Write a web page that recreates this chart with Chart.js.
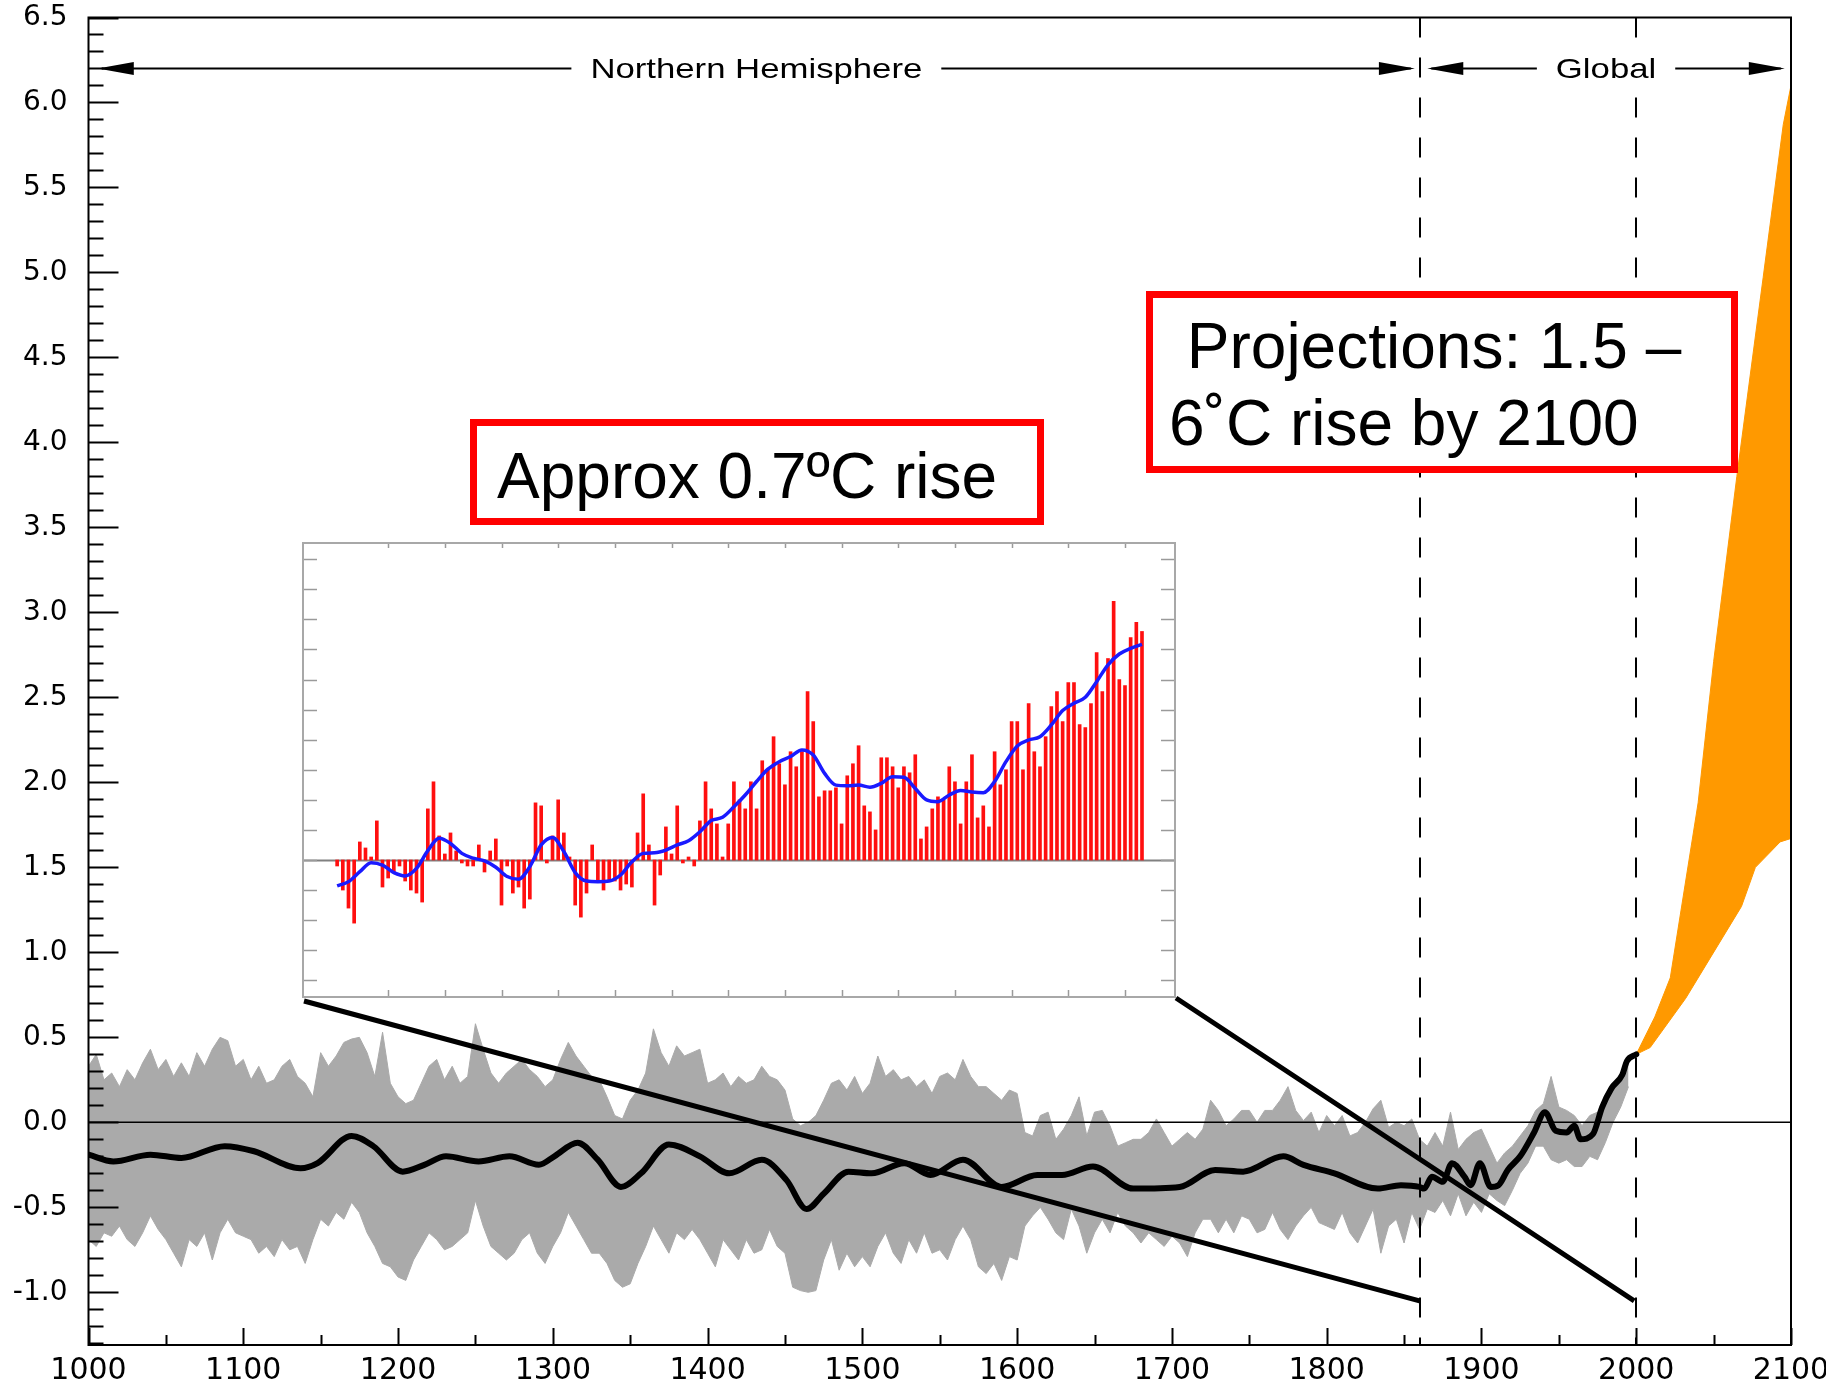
<!DOCTYPE html>
<html>
<head>
<meta charset="utf-8">
<script src="https://cdn.jsdelivr.net/npm/chart.js@4.4.1/dist/chart.umd.min.js"></script>
<style>
  html, body { margin: 0; padding: 0; background: #fff; }
  #wrap { position: relative; width: 1826px; height: 1383px; overflow: hidden; }
  #main { position: absolute; left: 0; top: 0; }
  #inset { position: absolute; }
  .note { position: absolute; box-sizing: border-box; border: 7px solid #ff0000; background: #fff;
          font-family: "Liberation Sans", Arial, sans-serif; font-size: 64px; color: #000; white-space: pre; }
  .note span { position: absolute; display: block; }
</style>
</head>
<body>
<div id="wrap">
  <canvas id="main" width="1826" height="1383"></canvas>
  <canvas id="inset" width="874" height="456"></canvas>
  <div class="note" id="noteRise"><span style="left:20px; top:18px; line-height:64px;">Approx 0.7ºC rise</span></div>
  <div class="note" id="noteProj"><span style="left:16px; top:10px; line-height:77px;"> Projections: 1.5 –<br>6˚C rise by 2100</span></div>
</div>
<script>
// ---------- axes ----------
const xTickLabels = [1000, 1100, 1200, 1300, 1400, 1500, 1600, 1700, 1800, 1900, 2000, 2100];
const yTickLabels = [-1.0, -0.5, 0.0, 0.5, 1.0, 1.5, 2.0, 2.5, 3.0, 3.5, 4.0, 4.5, 5.0, 5.5, 6.0, 6.5];

// ---------- reconstruction uncertainty range (°C), every 5 years from 1000 ----------
const rangeStart = 1000, rangeStep = 5;
const rangeUpper = [
  0.33,0.40,0.25,0.29,0.21,0.31,0.25,0.35,0.43,0.31,0.37,0.27,0.35,0.27,0.41,0.33,0.43,0.50,0.48,0.33,
  0.37,0.25,0.33,0.23,0.25,0.33,0.37,0.27,0.23,0.15,0.41,0.33,0.39,0.47,0.49,0.50,0.41,0.27,0.53,0.23,
  0.15,0.11,0.13,0.23,0.33,0.37,0.25,0.33,0.23,0.27,0.58,0.43,0.29,0.23,0.29,0.33,0.37,0.31,0.27,0.21,
  0.25,0.37,0.47,0.39,0.33,0.27,0.25,0.15,0.04,0.02,0.13,0.19,0.29,0.55,0.41,0.33,0.45,0.39,0.41,0.43,
  0.23,0.25,0.29,0.21,0.27,0.23,0.25,0.33,0.27,0.25,0.19,0.02,-0.02,0.00,0.04,0.13,0.23,0.25,0.19,0.27,
  0.17,0.23,0.39,0.27,0.31,0.25,0.27,0.21,0.25,0.17,0.27,0.29,0.25,0.37,0.27,0.21,0.21,0.17,0.13,0.19,
  0.17,-0.06,-0.08,0.04,0.06,-0.10,-0.04,0.04,0.15,-0.08,0.06,0.07,-0.02,-0.14,-0.12,-0.10,-0.10,-0.06,0.02,-0.06,
  -0.14,-0.10,-0.06,-0.10,-0.04,0.13,0.07,-0.02,0.02,0.07,0.07,0.00,0.07,0.07,0.13,0.21,0.07,0.01,0.06,-0.06,
  0.04,-0.02,0.04,-0.08,-0.06,0.00,0.08,0.13,-0.03,0.00,-0.02,0.02,-0.10,-0.14,-0.06,-0.14,0.06,-0.16,-0.10,-0.06,
  -0.04,-0.14,-0.24,-0.18,-0.14,-0.08,-0.02,0.07,0.11,0.27,0.09,0.07,0.04,-0.02,0.04,0.06,0.09,0.21,0.27,0.37
];
const rangeLower = [
  -0.69,-0.73,-0.65,-0.67,-0.61,-0.69,-0.73,-0.65,-0.55,-0.63,-0.69,-0.77,-0.85,-0.69,-0.73,-0.65,-0.81,-0.65,-0.57,-0.65,
  -0.67,-0.69,-0.77,-0.73,-0.79,-0.69,-0.75,-0.73,-0.83,-0.69,-0.57,-0.61,-0.53,-0.57,-0.47,-0.53,-0.65,-0.73,-0.83,-0.85,
  -0.91,-0.93,-0.81,-0.73,-0.65,-0.69,-0.75,-0.73,-0.69,-0.65,-0.46,-0.61,-0.73,-0.77,-0.81,-0.77,-0.69,-0.65,-0.77,-0.83,
  -0.73,-0.65,-0.53,-0.61,-0.69,-0.77,-0.77,-0.83,-0.93,-0.97,-0.95,-0.83,-0.73,-0.61,-0.69,-0.77,-0.65,-0.69,-0.63,-0.69,
  -0.77,-0.85,-0.69,-0.75,-0.81,-0.69,-0.77,-0.75,-0.63,-0.73,-0.77,-0.97,-0.99,-1.00,-0.99,-0.81,-0.69,-0.87,-0.77,-0.85,
  -0.79,-0.85,-0.73,-0.65,-0.77,-0.83,-0.69,-0.77,-0.65,-0.77,-0.75,-0.81,-0.69,-0.61,-0.69,-0.85,-0.89,-0.83,-0.93,-0.79,
  -0.81,-0.61,-0.55,-0.50,-0.57,-0.65,-0.69,-0.51,-0.61,-0.77,-0.65,-0.57,-0.65,-0.53,-0.61,-0.65,-0.71,-0.65,-0.69,-0.73,
  -0.67,-0.71,-0.79,-0.65,-0.57,-0.57,-0.65,-0.57,-0.65,-0.55,-0.57,-0.65,-0.63,-0.53,-0.63,-0.69,-0.61,-0.55,-0.50,-0.59,
  -0.61,-0.63,-0.53,-0.65,-0.71,-0.61,-0.51,-0.77,-0.61,-0.57,-0.71,-0.53,-0.63,-0.51,-0.53,-0.46,-0.55,-0.42,-0.55,-0.47,
  -0.53,-0.42,-0.46,-0.49,-0.40,-0.30,-0.24,-0.14,-0.14,-0.22,-0.24,-0.22,-0.26,-0.26,-0.20,-0.22,-0.12,0.00,0.09,0.21
];

// ---------- smoothed reconstruction + instrumental curve (°C) ----------
const smoothYears = [1000,1016,1040,1060,1088,1107,1137,1148,1170,1184,1203,1217,1231,1252,1272,1291,1301,1316,1329,1344,
  1357,1375,1395,1414,1435,1451,1464,1475,1491,1506,1527,1544,1565,1590,1613,1629,1649,1675,1705,1728,
  1746,1772,1785,1805,1833,1848,1860,1863,1868,1875,1881,1889,1893,1899,1906,1911,1917,1925,1934,1941,
  1948,1955,1960,1964,1972,1978,1984,1991,1994,2000];
const smoothValues = [-0.19,-0.23,-0.19,-0.21,-0.14,-0.17,-0.27,-0.24,-0.08,-0.14,-0.29,-0.25,-0.20,-0.23,-0.20,-0.25,-0.20,-0.12,-0.22,-0.38,
  -0.30,-0.13,-0.20,-0.30,-0.22,-0.34,-0.51,-0.42,-0.29,-0.30,-0.24,-0.31,-0.22,-0.38,-0.31,-0.31,-0.26,-0.39,-0.38,-0.28,
  -0.29,-0.20,-0.25,-0.30,-0.39,-0.37,-0.38,-0.39,-0.32,-0.35,-0.24,-0.32,-0.37,-0.24,-0.38,-0.37,-0.28,-0.20,-0.06,0.06,
  -0.05,-0.06,-0.02,-0.10,-0.07,0.09,0.20,0.28,0.36,0.40];

// ---------- projection envelope to 2100 (°C) ----------
const projHighYears = [2000, 2012, 2022, 2040, 2050, 2065, 2082, 2095, 2100];
const projHigh      = [0.40, 0.62, 0.85, 1.88, 2.71, 3.80, 4.97, 5.87, 6.10];
const projLowYears  = [2000, 2009, 2032, 2068, 2077, 2093, 2100];
const projLow       = [0.40, 0.44, 0.73, 1.27, 1.50, 1.65, 1.67];

// ---------- period markers ----------
const dividerYears = [1860, 2000];
const spanLabels = ['Northern Hemisphere', 'Global'];
const spanFrom   = [1006, 1865];
const spanTo     = [1857, 2096];
const spanLevel  = 6.2;
const zoomFloor  = -1.05;   // where the inset's guide lines meet the axis

// ---------- instrumental record 1861-2003 (inset) ----------
const recordStart = 1861;
const recordAnomaly = [
  -0.02,-0.10,-0.16,-0.21,0.06,0.04,0.01,0.13,-0.09,-0.06,
  -0.04,-0.02,-0.07,-0.10,-0.11,-0.14,0.17,0.26,0.08,0.02,
  0.09,0.03,-0.01,-0.02,-0.02,0.05,-0.04,0.03,0.07,-0.15,
  -0.02,-0.11,-0.09,-0.16,-0.13,0.19,0.18,-0.01,0.08,0.20,
  0.09,0.01,-0.15,-0.19,-0.11,0.05,-0.07,-0.10,-0.07,-0.07,
  -0.10,-0.08,-0.09,0.09,0.22,0.05,-0.15,-0.05,0.11,0.02,
  0.18,-0.01,0.01,-0.02,0.13,0.26,0.17,0.12,0.01,0.12,
  0.26,0.20,0.17,0.26,0.17,0.33,0.30,0.41,0.32,0.25,
  0.36,0.31,0.36,0.56,0.46,0.21,0.23,0.23,0.24,0.12,
  0.28,0.32,0.38,0.18,0.16,0.10,0.34,0.34,0.31,0.24,
  0.31,0.29,0.35,0.07,0.11,0.17,0.21,0.20,0.31,0.26,
  0.12,0.26,0.35,0.14,0.18,0.11,0.36,0.25,0.30,0.46,
  0.46,0.30,0.52,0.36,0.31,0.41,0.51,0.56,0.46,0.59,
  0.59,0.45,0.44,0.52,0.69,0.56,0.67,0.86,0.60,0.58,
  0.74,0.79,0.76
];
// decadal-smoothed record, every second year from 1861
const recordSmoothStep = 2;
const recordSmooth = [
  -0.086,-0.072,-0.039,-0.009,-0.017,-0.042,-0.053,-0.028,0.031,0.072,
  0.055,0.022,0.006,-0.003,-0.024,-0.055,-0.064,-0.022,0.050,0.075,
  0.028,-0.042,-0.070,-0.072,-0.070,-0.050,-0.006,0.022,0.024,0.033,
  0.050,0.064,0.094,0.131,0.142,0.177,0.216,0.261,0.302,0.327,
  0.344,0.366,0.349,0.288,0.249,0.247,0.249,0.242,0.255,0.277,
  0.275,0.238,0.200,0.194,0.216,0.231,0.226,0.224,0.261,0.327,
  0.379,0.399,0.410,0.449,0.497,0.521,0.541,0.593,0.649,0.685,
  0.704,0.717
];
const insetXRange = [1854.8, 2009.0];
const insetYRange = [-0.459, 1.0575];

// ---------- layout ----------
const insetBox = { left: 302, top: 542, width: 874, height: 456 };
const noteRise = { left: 470, top: 419, width: 574, height: 106 };
const noteProj = { left: 1146, top: 291, width: 592, height: 182 };

function place(el, b) {
  el.style.left = b.left + 'px'; el.style.top = b.top + 'px';
  el.style.width = b.width + 'px'; el.style.height = b.height + 'px';
}
place(document.getElementById('inset'), insetBox);
place(document.getElementById('noteRise'), noteRise);
place(document.getElementById('noteProj'), noteProj);

const pts = (xs, ys) => xs.map((x, i) => ({ x, y: ys[i] }));
const seq = (start, step, vals) => vals.map((v, i) => ({ x: start + i * step, y: v }));

// ---------- main chart decorations ----------
const mainDecor = {
  id: 'mainDecor',
  beforeDraw(chart) {
    const { ctx, width, height } = chart;
    ctx.save(); ctx.fillStyle = '#fff'; ctx.fillRect(0, 0, width, height); ctx.restore();
  },
  afterDatasetsDraw(chart) {
    const { ctx, chartArea: a, scales: { x, y } } = chart;
    ctx.save();
    // dashed period dividers
    ctx.strokeStyle = '#000'; ctx.lineWidth = 2; ctx.setLineDash([20, 20]);
    dividerYears.forEach(yr => {
      const px = Math.round(x.getPixelForValue(yr));
      ctx.beginPath(); ctx.moveTo(px, a.top); ctx.lineTo(px, a.bottom); ctx.stroke();
    });
    ctx.setLineDash([]);
    // guide lines from the inset to the instrumental period
    ctx.lineWidth = 5; ctx.lineCap = 'butt';
    const yb = y.getPixelForValue(zoomFloor);
    ctx.beginPath();
    ctx.moveTo(insetBox.left + 2, insetBox.top + insetBox.height + 3);
    ctx.lineTo(x.getPixelForValue(dividerYears[0]), yb);
    ctx.moveTo(insetBox.left + insetBox.width, insetBox.top + insetBox.height);
    ctx.lineTo(x.getPixelForValue(dividerYears[1]) - 2, yb);
    ctx.stroke();
    ctx.restore();
  },
  afterDraw(chart) {
    const { ctx, chartArea: a, scales: { x, y } } = chart;
    ctx.save();
    ctx.strokeStyle = '#000';
    // frame
    ctx.lineWidth = 2;
    ctx.strokeRect(a.left, a.top, a.right - a.left, a.bottom - a.top);
    // inward ticks on the left axis: 0.1 minor, 0.5 major
    ctx.beginPath();
    for (let k = -13; k <= 65; k++) {
      const py = Math.round(y.getPixelForValue(k / 10)) + 0.5;
      const len = (k % 5 === 0) ? 30 : 15;
      ctx.moveTo(a.left, py); ctx.lineTo(a.left + len, py);
    }
    // inward ticks on the bottom axis: 50-year minor, 100-year major
    for (let yr = 1000; yr <= 2100; yr += 50) {
      const px = Math.round(x.getPixelForValue(yr)) + 0.5;
      const len = (yr % 100 === 0) ? 17 : 10;
      ctx.moveTo(px, a.bottom); ctx.lineTo(px, a.bottom - len);
    }
    ctx.stroke();

    // span arrows with labels
    const py = y.getPixelForValue(spanLevel);
    const stretch = 1.24, gap = 19, headLen = 36, headHalf = 6.5;
    ctx.font = '28px "Liberation Sans", Arial, sans-serif';
    ctx.lineWidth = 2;
    spanLabels.forEach((label, i) => {
      const x1 = x.getPixelForValue(spanFrom[i]);
      const x2 = x.getPixelForValue(spanTo[i]);
      const cx = (x1 + x2) / 2;
      const w = ctx.measureText(label).width * stretch;
      // clear a slot for the label so no divider runs through it
      ctx.fillStyle = '#fff';
      ctx.fillRect(cx - w / 2 - 6, py - 14, w + 12, 28);
      ctx.fillStyle = '#000';
      ctx.beginPath();
      ctx.moveTo(x1 + 4, py); ctx.lineTo(cx - w / 2 - gap, py);
      ctx.moveTo(cx + w / 2 + gap, py); ctx.lineTo(x2 - 4, py);
      ctx.stroke();
      ctx.beginPath();
      ctx.moveTo(x1, py); ctx.lineTo(x1 + headLen, py - headHalf); ctx.lineTo(x1 + headLen, py + headHalf); ctx.closePath();
      ctx.moveTo(x2, py); ctx.lineTo(x2 - headLen, py - headHalf); ctx.lineTo(x2 - headLen, py + headHalf); ctx.closePath();
      ctx.fill();
      ctx.save();
      ctx.translate(cx - w / 2, py + 10);
      ctx.scale(stretch, 1);
      ctx.textBaseline = 'alphabetic';
      ctx.fillText(label, 0, 0);
      ctx.restore();
    });
    ctx.restore();
  }
};

new Chart(document.getElementById('main'), {
  type: 'line',
  data: {
    datasets: [
      { label: 'Smoothed', data: pts(smoothYears, smoothValues), borderColor: '#000', borderWidth: 6,
        pointRadius: 0, cubicInterpolationMode: 'monotone', fill: false, order: 0,
        borderCapStyle: 'round', borderJoinStyle: 'round' },
      { label: 'Zero', data: pts([1000, 2100], [0, 0]), borderColor: '#000', borderWidth: 1.5,
        pointRadius: 0, fill: false, order: 1 },
      { label: 'Projection high', data: pts(projHighYears, projHigh), borderColor: '#ff9900', borderWidth: 1,
        backgroundColor: '#ff9900', pointRadius: 0, fill: '+1', order: 2 },
      { label: 'Projection low', data: pts(projLowYears, projLow), borderColor: '#ff9900', borderWidth: 1,
        pointRadius: 0, fill: false, order: 3 },
      { label: 'Range high', data: seq(rangeStart, rangeStep, rangeUpper), borderColor: '#aaaaaa', borderWidth: 1,
        backgroundColor: '#aaaaaa', pointRadius: 0, fill: '+1', order: 4 },
      { label: 'Range low', data: seq(rangeStart, rangeStep, rangeLower), borderColor: '#aaaaaa', borderWidth: 1,
        pointRadius: 0, fill: false, order: 5 }
    ]
  },
  options: {
    responsive: false, animation: false, devicePixelRatio: 1,
    layout: { padding: { top: 17.5, right: 35, left: 0, bottom: 0 } },
    plugins: { legend: { display: false }, tooltip: { enabled: false } },
    scales: {
      x: {
        type: 'linear', min: 1000, max: 2100,
        grid: { display: false, drawTicks: false }, border: { display: false },
        afterBuildTicks: s => { s.ticks = xTickLabels.map(v => ({ value: v })); },
        afterFit: s => { s.height = 38; s.paddingLeft = 0; s.paddingRight = 0; },
        ticks: { font: { family: 'DejaVu Sans', size: 30 }, color: '#000', padding: 8,
                 maxRotation: 0, autoSkip: false, callback: v => String(v) }
      },
      y: {
        type: 'linear', min: -1.31, max: 6.5,
        grid: { display: false, drawTicks: false }, border: { display: false },
        afterBuildTicks: s => { s.ticks = yTickLabels.map(v => ({ value: v })); },
        afterFit: s => { s.width = 88.5; s.paddingTop = 0; s.paddingBottom = 0; },
        ticks: { font: { family: 'DejaVu Sans', size: 28 }, color: '#000', padding: 21,
                 autoSkip: false, callback: v => Number(v).toFixed(1) }
      }
    }
  },
  plugins: [mainDecor]
});

// ---------- inset: instrumental record ----------
const insetDecor = {
  id: 'insetDecor',
  beforeDraw(chart) {
    const { ctx, width, height } = chart;
    ctx.save(); ctx.fillStyle = '#fff'; ctx.fillRect(0, 0, width, height); ctx.restore();
  },
  beforeDatasetsDraw(chart) {
    const { ctx, chartArea: a, scales: { y } } = chart;
    const py = Math.round(y.getPixelForValue(0)) + 0.5;
    ctx.save(); ctx.strokeStyle = '#808080'; ctx.lineWidth = 2;
    ctx.beginPath(); ctx.moveTo(a.left, py); ctx.lineTo(a.right, py); ctx.stroke(); ctx.restore();
  },
  afterDraw(chart) {
    const { ctx, chartArea: a, scales: { x, y } } = chart;
    ctx.save();
    ctx.strokeStyle = '#9a9a9a'; ctx.lineWidth = 1.5;
    ctx.beginPath();
    for (let k = -4; k <= 10; k++) {
      const py = Math.round(y.getPixelForValue(k / 10)) + 0.5;
      ctx.moveTo(a.left, py); ctx.lineTo(a.left + 15, py);
      ctx.moveTo(a.right, py); ctx.lineTo(a.right - 15, py);
    }
    for (let yr = 1870; yr <= 2000; yr += 10) {
      const px = Math.round(x.getPixelForValue(yr)) + 0.5;
      ctx.moveTo(px, a.bottom); ctx.lineTo(px, a.bottom - 8);
      ctx.moveTo(px, a.top); ctx.lineTo(px, a.top + 6);
    }
    ctx.stroke();
    ctx.strokeStyle = '#a8a8a8'; ctx.lineWidth = 2;
    ctx.strokeRect(1, 1, chart.width - 2, chart.height - 2);
    ctx.restore();
  }
};

new Chart(document.getElementById('inset'), {
  data: {
    datasets: [
      { type: 'line', label: 'Decadal', data: seq(recordStart, recordSmoothStep, recordSmooth),
        borderColor: '#1a1aff', borderWidth: 3.5, pointRadius: 0, cubicInterpolationMode: 'monotone',
        fill: false, order: 0 },
      { type: 'bar', label: 'Annual', data: seq(recordStart, 1, recordAnomaly),
        backgroundColor: '#ff0f0f', barThickness: 3, order: 1 }
    ]
  },
  options: {
    responsive: false, animation: false, devicePixelRatio: 1,
    layout: { padding: 0 },
    plugins: { legend: { display: false }, tooltip: { enabled: false } },
    scales: {
      x: { type: 'linear', min: insetXRange[0], max: insetXRange[1], display: false, offset: false },
      y: { type: 'linear', min: insetYRange[0], max: insetYRange[1], display: false }
    }
  },
  plugins: [insetDecor]
});
</script>
</body>
</html>
